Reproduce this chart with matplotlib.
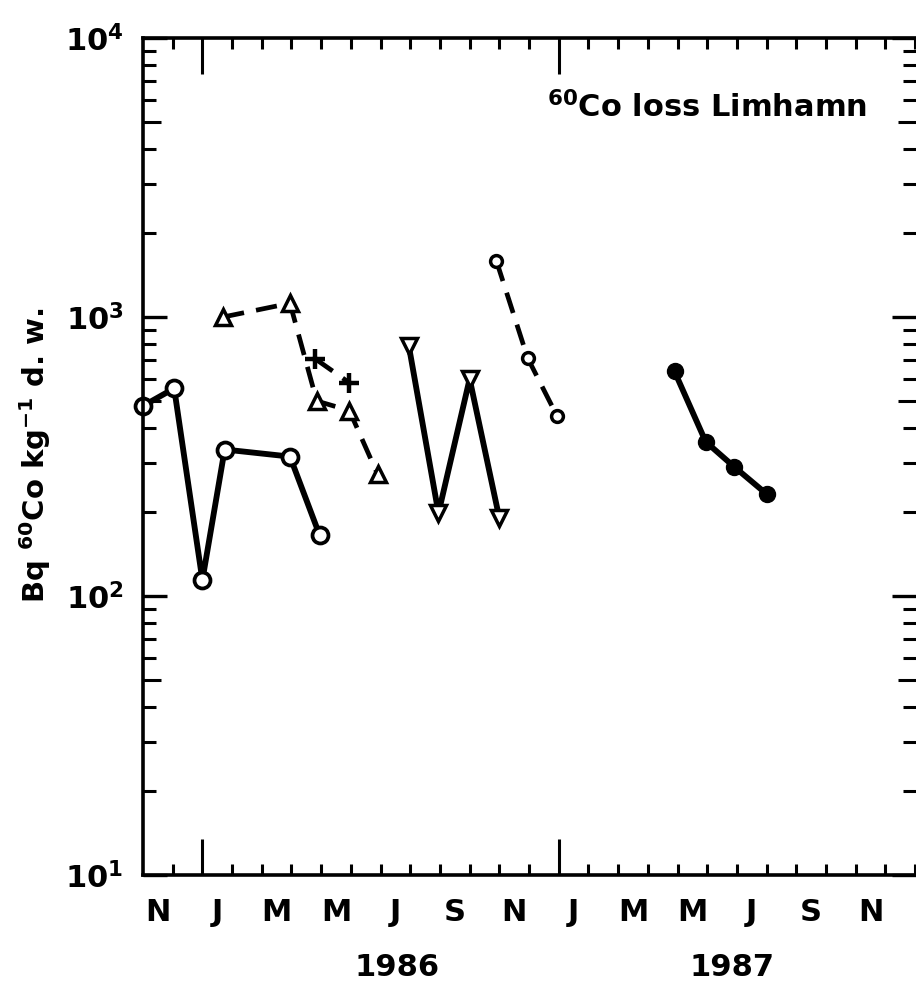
import numpy as np
import matplotlib
matplotlib.use("Agg")
import matplotlib.pyplot as plt
from matplotlib.ticker import LogLocator, FixedLocator, NullFormatter

plt.rcParams['font.family'] = ['DejaVu Sans']
plt.rcParams['font.weight'] = 'bold'
plt.rcParams['mathtext.default'] = 'bf'

# x values are months counted from 1 Nov 1985, y values in Bq 60Co per kg d.w.
circle_x = [0.0, 1.05, 2.0, 2.75, 4.95, 5.95]
circle_y = [480, 555, 114, 335, 316, 165]

tri_up_x = [2.7, 4.95, 5.85, 6.95, 7.9]
tri_up_y = [1000, 1120, 500, 462, 273]

plus_x = [5.8, 6.95]
plus_y = [708, 581]

tri_down_x = [8.95, 9.95, 11.0, 12.0]
tri_down_y = [790, 198, 600, 190]

small_circle_x = [11.9, 12.95, 13.95]
small_circle_y = [1590, 714, 440]

dot_x = [17.9, 18.95, 19.9, 21.0]
dot_y = [638, 357, 291, 232]

month_labels = ['N', 'J', 'M', 'M', 'J', 'S', 'N', 'J', 'M', 'M', 'J', 'S', 'N']
year_labels = ['1986', '1987']
year_pos = [8.55, 19.85]

fig = plt.figure(figsize=(9.16, 9.84), dpi=100)
ax = fig.add_axes([143 / 916, 1 - 875 / 984, (924 - 143) / 916, (875 - 38) / 984])

solid = dict(color='black', lw=4.2, clip_on=False)
dashed = dict(color='black', lw=3.4, linestyle=(0, (4.5, 2.6)), clip_on=False)

ax.plot(circle_x, circle_y, marker='o', ms=11.5, mfc='white', mec='black', mew=2.7, **solid)
ax.plot(tri_up_x, tri_up_y, marker='^', ms=12, mfc='white', mec='black', mew=2.5, **dashed)
ax.plot(plus_x, plus_y, marker='+', ms=14, mec='black', mew=3.2, **dashed)
ax.plot(tri_down_x, tri_down_y, marker='v', ms=12, mfc='white', mec='black', mew=2.5, **solid)
ax.plot(small_circle_x, small_circle_y, marker='o', ms=8.5, mfc='white', mec='black', mew=2.5, **dashed)
ax.plot(dot_x, dot_y, marker='o', ms=11.5, mfc='black', mec='black', **solid)

ax.set_yscale('log')
ax.set_ylim(10, 1e4)
ax.set_xlim(0, 26.3)

for s in ax.spines.values():
    s.set_linewidth(2.6)

# y axis: decades labelled, minor ticks between
ax.yaxis.set_major_locator(LogLocator(base=10, numticks=10))
ax.yaxis.set_minor_locator(LogLocator(base=10, subs=np.arange(2, 10), numticks=20))
ax.yaxis.set_minor_formatter(NullFormatter())
ax.set_yticks([10, 100, 1000, 10000], [r'$10^{1}$', r'$10^{2}$', r'$10^{3}$', r'$10^{4}$'])
ax.tick_params(axis='y', which='major', direction='in', length=17, width=2.4,
               left=True, right=True, labelsize=22, pad=14)
ax.tick_params(axis='y', which='minor', direction='in', length=9, width=2.2,
               left=True, right=True)

# x axis: monthly ticks, long ticks at each new year
ax.xaxis.set_major_locator(FixedLocator([2, 14]))
ax.xaxis.set_minor_locator(FixedLocator([m for m in range(1, 27) if m not in (2, 14)]))
ax.tick_params(axis='x', which='major', direction='in', length=26, width=2.2,
               bottom=True, top=True, labelbottom=False)
ax.tick_params(axis='x', which='minor', direction='in', length=8, width=2.2,
               bottom=True, top=True)

# the 5s get a longer tick; right-hand ticks are a bit longer than the left ones
fig.canvas.draw()
for tick, loc in zip(ax.yaxis.get_minor_ticks(), ax.yaxis.get_minorticklocs()):
    size = 9
    if np.isclose(loc / 10 ** np.floor(np.log10(loc) + 1e-9), 5):
        size = 13
    tick.tick1line.set_markersize(size)
    tick.tick2line.set_markersize(size + 6)
for tick in ax.yaxis.get_major_ticks():
    tick.tick2line.set_markersize(23)

xt = ax.get_xaxis_transform()
for i, lab in enumerate(month_labels):
    ax.text(0.5 + 2 * i, -0.045, lab, transform=xt, ha='center', va='center',
            fontsize=22, fontweight='bold')
for pos, lab in zip(year_pos, year_labels):
    ax.text(pos, -0.11, lab, transform=xt, ha='center', va='center',
            fontsize=22, fontweight='bold')

ax.text((867 - 143) / (924 - 143), 0.9056, r'$^{60}$Co loss Limhamn', transform=ax.transAxes,
        ha='right', va='baseline', fontsize=22, fontweight='bold')

fig.text(35 / 916, 1 - 455 / 984, r'Bq $^{60}$Co kg$^{-1}$ d. w.', rotation=90,
         ha='center', va='center', fontsize=21, fontweight='bold')

fig.savefig('out.png', dpi=100)
